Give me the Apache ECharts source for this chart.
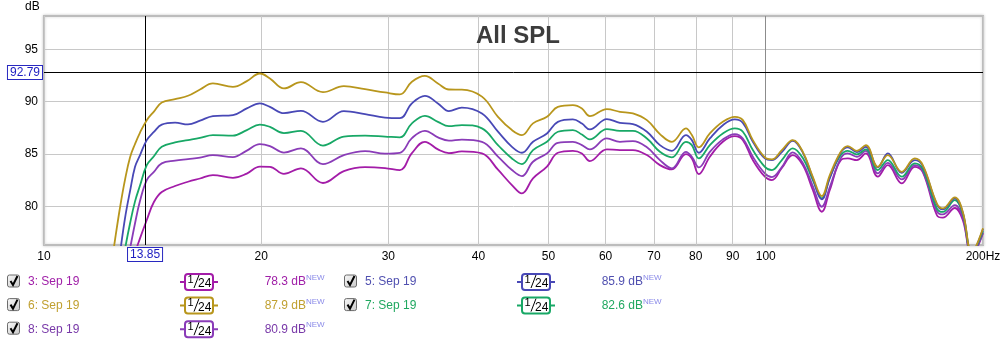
<!DOCTYPE html>
<html><head><meta charset="utf-8">
<script src="https://cdn.jsdelivr.net/npm/echarts@6/dist/echarts.min.js"></script>
<style>html,body{margin:0;padding:0;background:#fff}#c{width:1005px;height:344px}</style>
</head><body><div id="c"></div>
<script>
// Frequencies (Hz), shared by all five measurements
const freqs = [12.15,12.34,12.54,12.75,12.95,13.16,13.37,13.58,
13.88,14.2,14.56,15.19,15.83,16.45,17.14,18.27,19.1,19.91,
20.56,21.5,22.7,24.35,26.03,27.85,29.68,31.12,32.34,33.71,
35.14,36.39,37.93,40.44,42.56,44.5,45.94,47.59,49.76,51.52,
54.05,55.63,57.05,60.23,62.8,65.46,68.45,71.35,74.13,77.52,
79.0,80.78,83.67,87.21,90.62,92.97,95.97,99.72,101.98,105.27,
109.0,112.56,116.2,119.59,122.68,127.06,129.93,133.72,137.63,142.98,
147.62,154.36,160.89,165.05,172.58,175.91,182.81,187.5,192.97,200];

// SPL (dB) per measurement
const spl3 = [61,63.5,66,68.5,71,73.5,75.5,76.91,
78.69,80.41,81.37,81.94,82.35,82.66,82.99,82.72,83.13,83.80,
83.78,83.10,83.63,82.23,83.37,83.75,83.66,83.47,85.09,86.17,
85.44,85.09,85.25,85.06,83.50,82.03,81.24,82.67,83.80,85.12,
85.31,85.06,84.33,85.44,85.38,85.38,84.90,83.94,83.53,85.00,
84.58,83.08,84.74,86.17,86.71,86.33,84.42,82.83,82.51,83.66,
84.90,83.94,81.56,79.48,81.56,84.42,84.58,84.42,85.06,82.83,
83.94,82.20,83.78,83.28,79.17,78.91,79.84,78.69,75.3,77.42];
const spl5 = [66.3,69.1,72.29,75.64,78.88,81.47,83.78,84.87,
86.33,87.12,87.81,88.00,87.83,88.19,88.62,88.72,89.36,89.84,
89.51,88.91,89.13,88.08,89.10,88.82,88.48,88.43,89.84,90.56,
89.84,89.10,89.44,88.88,87.14,85.69,85.12,86.17,86.97,88.08,
88.31,87.91,87.35,88.34,87.98,87.86,87.13,85.85,85.31,86.81,
86.33,85.12,86.49,87.76,88.31,87.98,86.17,84.58,84.42,85.19,
86.27,85.14,82.70,80.67,82.70,85.14,85.64,85.19,85.69,83.72,
85.06,83.21,84.42,83.85,80.19,79.71,80.76,79.41,75.5,77.83];
const spl6 = [70.6,73.4,76.75,79.96,82.55,84.69,85.96,87.03,
88.24,89.06,89.93,90.25,90.57,91.17,91.75,91.42,91.97,92.70,
92.23,91.27,91.87,90.92,91.49,91.20,90.89,90.70,91.92,92.47,
91.75,91.17,91.16,90.49,88.56,87.29,86.81,87.93,88.56,89.51,
89.68,89.36,88.62,89.29,89.04,88.88,88.24,86.91,86.17,87.45,
86.81,85.64,86.97,88.08,88.56,88.24,86.33,84.68,84.49,85.38,
86.33,85.21,82.82,80.98,82.99,85.21,85.76,85.31,85.85,83.78,
84.90,83.30,84.58,83.94,80.29,79.81,80.86,79.48,75.6,77.90];
const spl7 = [64.4,67.2,70.1,73.06,75.92,78.38,80.47,81.96,
83.94,84.79,85.69,86.11,86.33,86.54,86.81,86.76,87.29,87.81,
87.60,87.00,87.22,85.81,86.67,86.76,86.67,86.59,87.93,88.65,
88.08,87.67,87.77,87.45,85.85,84.58,84.04,85.38,86.17,87.13,
87.29,86.86,86.40,87.38,87.22,87.22,86.49,85.21,84.68,86.17,
85.85,84.58,85.85,86.97,87.45,87.13,85.38,83.78,83.47,84.42,
85.54,84.61,82.51,80.76,82.80,84.90,85.31,84.97,85.44,83.47,
84.42,82.83,84.11,83.56,79.81,79.46,80.60,79.26,75.5,77.64];
const spl8 = [64,66.5,69,70.67,73.44,75.97,78.38,80.48,
82.51,83.29,84.11,84.37,84.52,84.66,84.90,84.71,85.33,85.95,
85.76,85.14,85.54,84.04,84.90,85.28,85.04,85.12,86.52,87.22,
86.59,86.28,86.38,86.17,84.76,83.47,82.89,84.26,85.06,86.07,
86.17,85.85,85.44,86.49,86.17,86.24,85.64,84.42,83.63,85.21,
84.74,83.72,85.21,86.40,86.91,86.49,84.74,83.15,82.79,83.75,
85.16,84.14,81.94,79.96,81.84,84.61,85.06,84.74,85.31,83.15,
84.16,82.58,83.94,83.37,79.55,79.22,80.12,78.98,75.4,77.50];

// Axis ticks
const xTicks = [10,20,30,40,50,60,70,80,90,100,200];
const yTicks = [80,85,90,95];

// Legend
const legendNames = ['3: Sep 19','6: Sep 19','8: Sep 19','5: Sep 19','7: Sep 19'];
const legendAvg = [78.3, 87.9, 80.9, 85.9, 82.6];

// Cursor
const cursorFreq = 13.85;
const cursorDb = 92.79;

const COLORS = {
  '3: Sep 19': '#a31ca8',
  '5: Sep 19': '#4848b6',
  '6: Sep 19': '#b8961c',
  '7: Sep 19': '#18a866',
  '8: Sep 19': '#8a3cb8'
};
const TEXTCOLORS = {
  '3: Sep 19': '#a020a8',
  '5: Sep 19': '#5050b0',
  '6: Sep 19': '#c0a030',
  '7: Sep 19': '#20a860',
  '8: Sep 19': '#7838a8'
};
const FONT = '"Liberation Sans", Arial, sans-serif';
const lg = v => Math.log10(v);

const seriesDefs = [
  ['3: Sep 19', spl3], ['8: Sep 19', spl8], ['7: Sep 19', spl7],
  ['5: Sep 19', spl5], ['6: Sep 19', spl6]
];

const series = seriesDefs.map(([name, vals], i) => ({
  name, type: 'line', smooth: 0.4, showSymbol: false, silent: true,
  data: freqs.map((f, k) => [lg(f), vals[k]]),
  lineStyle: { color: COLORS[name], width: 1.8 },
  itemStyle: { color: COLORS[name] },
  z: 3 + i
}));

// 100 Hz darker grid line
series[0].markLine = {
  silent: true, symbol: ['none', 'none'], animation: false,
  label: { show: false },
  lineStyle: { color: '#8c8c8c', width: 1, type: 'solid' },
  data: [{ xAxis: lg(100) }]
};

const boxLabel = {
  show: true, position: 'start', color: '#1c1cc0', fontSize: 12, fontFamily: FONT,
  backgroundColor: '#fff', borderColor: '#2828c0', borderWidth: 1, padding: [1, 2, 0, 2]
};
series[series.length - 1].markLine = {
  silent: true, symbol: ['none', 'none'], animation: false,
  lineStyle: { color: '#000', width: 1, type: 'solid' },
  data: [
    { xAxis: lg(cursorFreq), label: Object.assign({}, boxLabel, { formatter: cursorFreq.toFixed(2), distance: 3 }) },
    { yAxis: cursorDb, label: Object.assign({}, boxLabel, { formatter: cursorDb.toFixed(2), distance: 2 }) }
  ]
};

// Legend graphics
const graphics = [
  { type: 'text', x: 25, y: 1, style: { text: 'dB', fill: '#000', font: '12px ' + FONT } }
];
legendNames.forEach((name, i) => {
  const col = i < 3 ? 0 : 1;
  const row = i < 3 ? i : i - 3;
  const ox = col * 337;
  const cy = 282 + row * 23.6;
  const c = COLORS[name];
  const tc = TEXTCOLORS[name];
  graphics.push(
    { type: 'rect', shape: { x: 7.5 + ox, y: cy - 7, width: 12, height: 12, r: 2 },
      style: { fill: new echarts.graphic.LinearGradient(0, 0, 1, 1, [{offset: 0, color: '#fafafa'}, {offset: 1, color: '#c8c8c8'}]), stroke: '#6c6c6c', lineWidth: 1 } },
    { type: 'polyline', shape: { points: [[10.5 + ox, cy - 1], [13 + ox, cy + 3], [17.5 + ox, cy - 6]] },
      style: { stroke: '#000', lineWidth: 2, fill: null } },
    { type: 'text', x: 28 + ox, y: cy, style: { text: name, fill: tc, font: '12px ' + FONT, textVerticalAlign: 'middle', verticalAlign: 'middle' } },
    { type: 'line', shape: { x1: 180 + ox, y1: cy, x2: 218 + ox, y2: cy }, style: { stroke: c, lineWidth: 2 } },
    { type: 'rect', shape: { x: 185 + ox, y: cy - 8, width: 28, height: 16, r: 3 }, style: { fill: '#fff', stroke: c, lineWidth: 2 } },
    { type: 'text', x: 187.5 + ox, y: cy - 8, style: { text: '1', fill: '#000', font: '11px ' + FONT } },
    { type: 'line', shape: { x1: 194 + ox, y1: cy + 6, x2: 199 + ox, y2: cy - 7 }, style: { stroke: '#000', lineWidth: 1 } },
    { type: 'text', x: 198 + ox, y: cy - 4, style: { text: '24', fill: '#000', font: '12px ' + FONT } },
    { type: 'text', x: 306 + ox, y: cy, style: { text: legendAvg[i].toFixed(1) + ' dB', fill: tc, font: '12px ' + FONT, textAlign: 'right', align: 'right', textVerticalAlign: 'middle', verticalAlign: 'middle' } },
    { type: 'text', x: 306 + ox, y: cy - 8, style: { text: 'NEW', fill: '#8a8ae8', font: '8px ' + FONT } }
  );
});

const chart = echarts.init(document.getElementById('c'), null, { renderer: 'canvas' });
chart.setOption({
  animation: false,
  backgroundColor: '#fff',
  title: {
    text: 'All SPL', left: 513, top: 19, textAlign: 'center',
    textStyle: { color: '#3c3c3c', fontSize: 24, fontWeight: 'bold', fontFamily: FONT }
  },
  grid: {
    left: 44, right: 22, top: 16, bottom: 99, show: true,
    borderColor: '#bcbcbc', borderWidth: 2, backgroundColor: '#fff',
    shadowColor: 'rgba(0,0,0,0.18)', shadowBlur: 3
  },
  xAxis: {
    type: 'value', min: lg(10), max: lg(200),
    axisLine: { show: false },
    axisTick: { show: false, customValues: xTicks.map(lg) },
    axisLabel: {
      customValues: xTicks.map(lg), color: '#000', fontSize: 12, fontFamily: FONT, margin: 6,
      hideOverlap: false,
      formatter: v => { const f = Math.round(Math.pow(10, v)); return f === 200 ? f + 'Hz' : String(f); }
    },
    splitLine: { show: true, lineStyle: { color: '#c8c8c8', width: 1 } }
  },
  yAxis: {
    type: 'value', min: 76.3, max: 98.2,
    axisLine: { show: false },
    axisTick: { show: false, customValues: yTicks },
    axisLabel: { customValues: yTicks, color: '#000', fontSize: 12, fontFamily: FONT, margin: 6 },
    splitLine: { show: true, lineStyle: { color: '#c8c8c8', width: 1 } }
  },
  graphic: graphics,
  series
});
</script>
</body></html>
